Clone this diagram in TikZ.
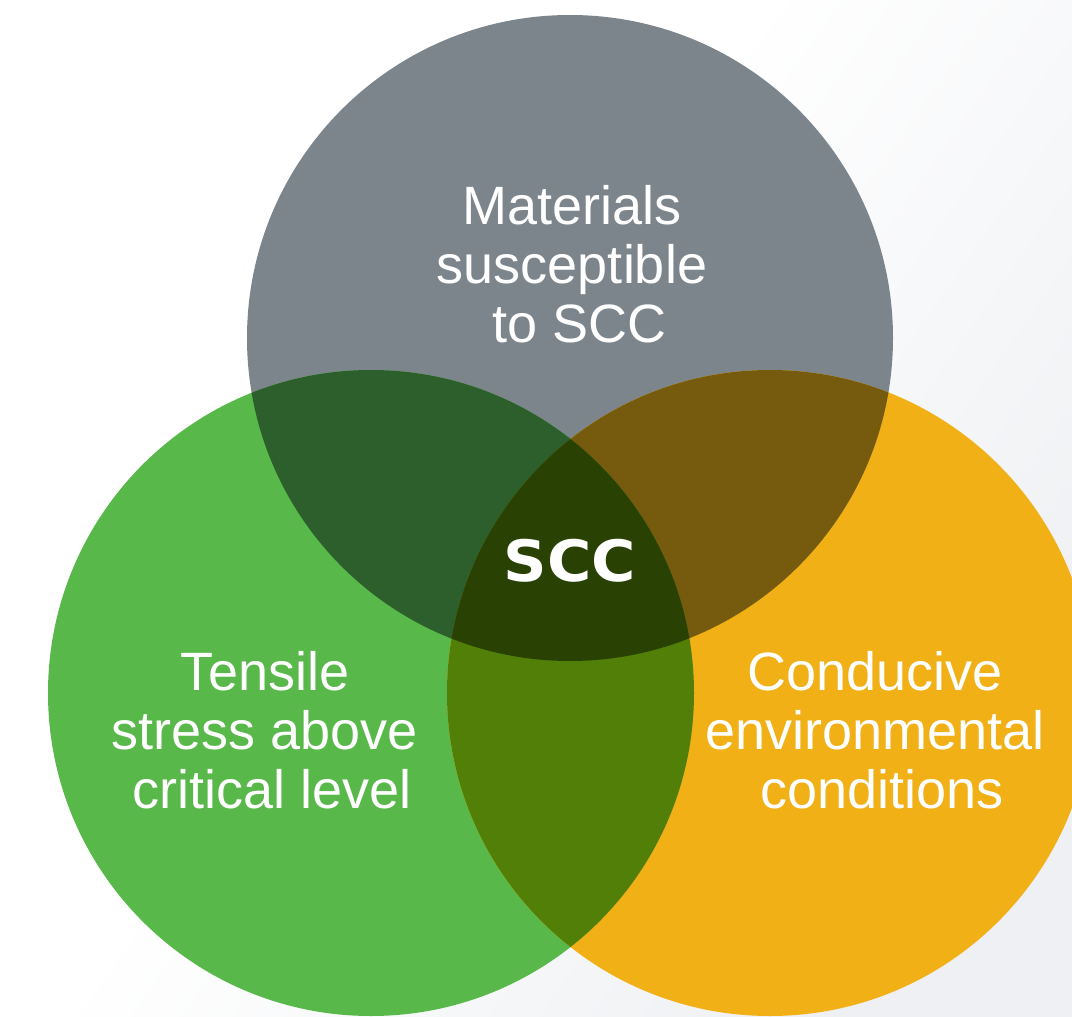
\documentclass[tikz,border=0pt]{standalone}
\usepackage{fontspec}
\setmainfont{Liberation Sans}
\newfontfamily\sccfont[FakeStretch=1.06]{DejaVu Sans}
\usetikzlibrary{positioning,shadings}

\definecolor{matgray}{HTML}{7D858C}
\definecolor{tengreen}{HTML}{58B84A}
\definecolor{envorange}{HTML}{F0B016}
\definecolor{mtgreen}{HTML}{2C5F2B}
\definecolor{mebrown}{HTML}{765A0E}
\definecolor{teolive}{HTML}{517F08}
\definecolor{alldark}{HTML}{294203}
\definecolor{bgcorner}{HTML}{EEF0F3}
\pgfdeclarehorizontalshading{bgfade}{100bp}{color(0bp)=(white);
  color(45bp)=(white); color(75bp)=(bgcorner); color(100bp)=(bgcorner)}

\begin{document}
\begin{tikzpicture}[x=1pt,y=-1pt,
    circtext/.style={text=white,align=center,inner sep=0pt,
      font=\fontsize{54}{59}\selectfont}]
      % frame and background
      \useasboundingbox (0,0) rectangle (1072,1017);
      \shade[shading=bgfade,shading angle=-35]
        (0,0) rectangle (1072,1017);
      \def\rad{323}
      \coordinate (mat) at (570,338);
      \coordinate (ten) at (371,693);
      \coordinate (env) at (770,693);
      \begin{scope}
        \clip (0,0) rectangle (1072,1017);
        \fill[matgray] (mat) circle[radius=\rad];
        \fill[tengreen] (ten) circle[radius=\rad];
        \fill[envorange] (env) circle[radius=\rad];
        % overlaps
        \begin{scope}
          \clip (mat) circle[radius=\rad];
          \fill[mtgreen] (ten) circle[radius=\rad];
          \fill[mebrown] (env) circle[radius=\rad];
        \end{scope}
        \begin{scope}
          \clip (ten) circle[radius=\rad];
          \fill[teolive] (env) circle[radius=\rad];
          \clip (env) circle[radius=\rad];
          \fill[alldark] (mat) circle[radius=\rad];
        \end{scope}
      \end{scope}
      \node[circtext] (matlabel) at (572,264) {Materials\\susceptible\\\hspace*{16pt}to SCC};
      \node[circtext] (tenlabel) at (265,730) {Tensile\\stress above\\\hspace*{14pt}critical level};
      \node[circtext] (envlabel) at (875,730) {Conducive\\environmental\\\hspace*{14pt}conditions};
      \node[text=white,inner sep=0pt,font=\sccfont\bfseries\fontsize{57}{60}\selectfont]
        (scc) at (570,561) {SCC};
    \end{tikzpicture}
\end{document}
